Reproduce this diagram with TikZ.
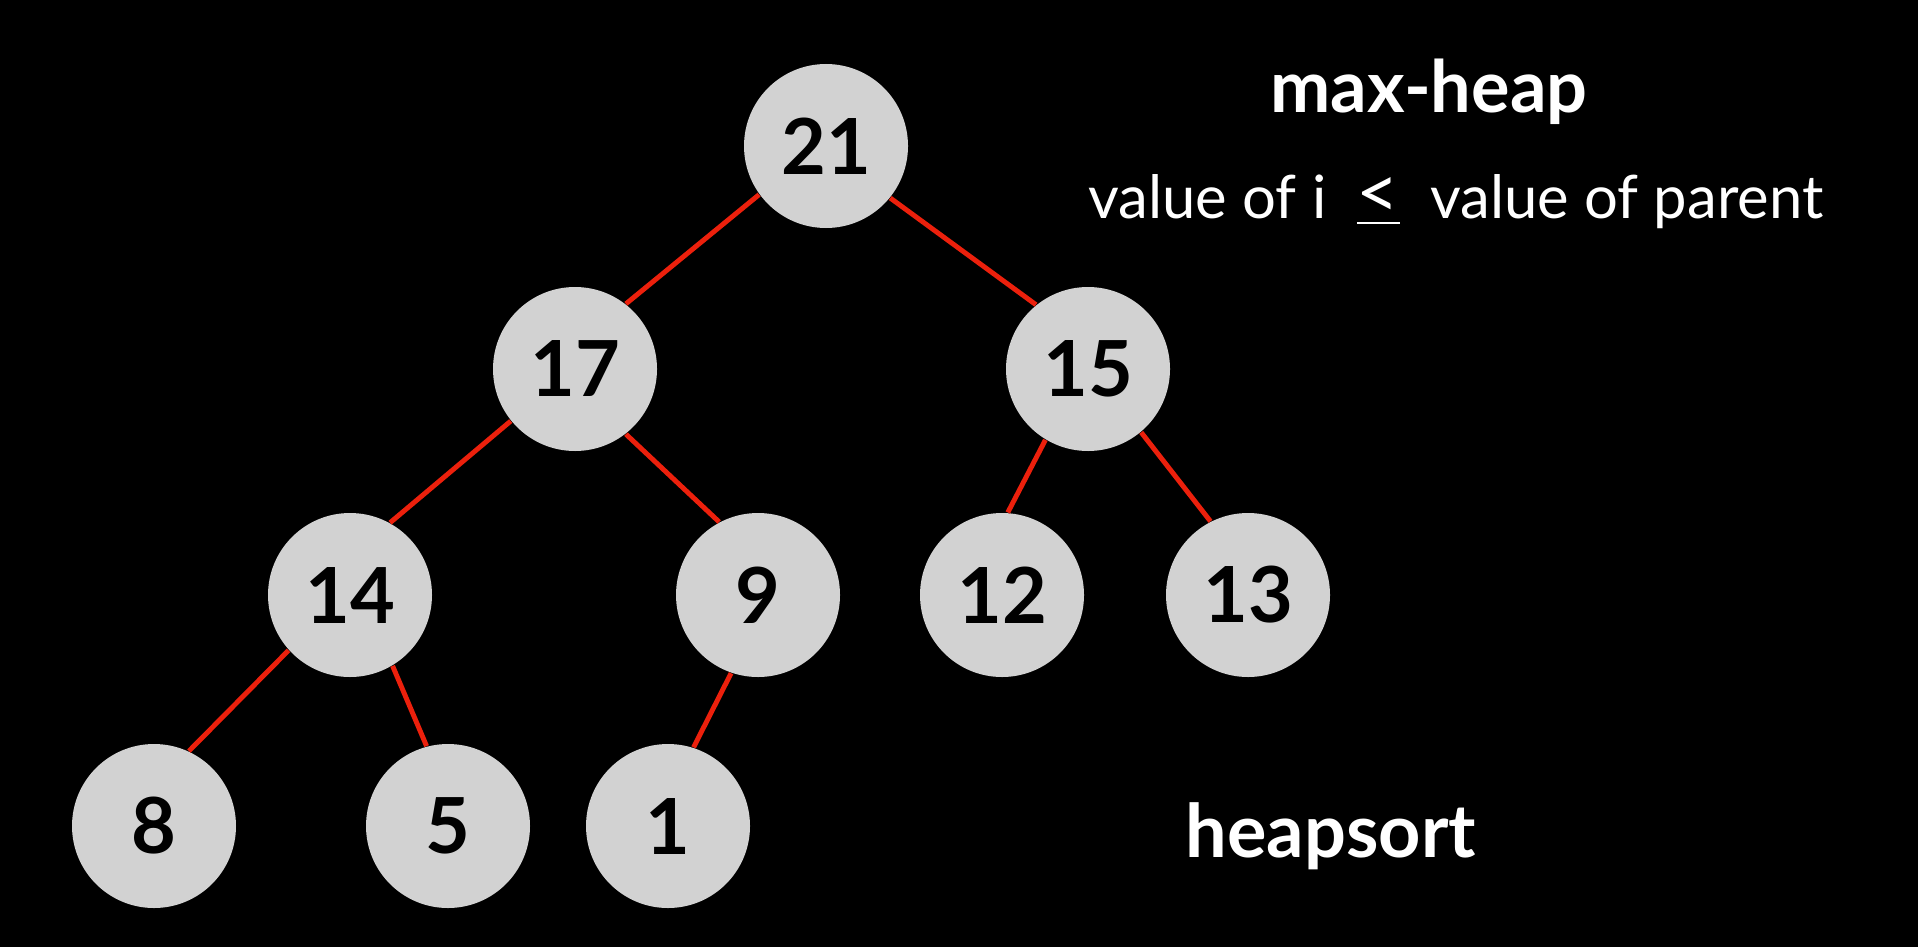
\documentclass[tikz,border=0pt]{standalone}
\usepackage{fontspec}
\setmainfont{Lato}
\usepackage{tikz}
\definecolor{nodegray}{RGB}{210,210,210}
\definecolor{edgered}{RGB}{236,32,12}

\begin{document}
\begin{tikzpicture}[
    heapnode/.style={circle, fill=nodegray, minimum size=1.64cm, inner sep=0pt,
        font=\fontsize{22}{24}\selectfont\bfseries, text=black},
    heapedge/.style={edgered, line width=1.4pt}
]
    % Background
    \useasboundingbox (0,0) rectangle (19.18,9.46);
    \fill[black] (-0.1,-0.1) rectangle (19.28,9.56);

    % Nodes
    \node[heapnode] (n21) at (8.26,8.00) {21};
    \node[heapnode] (n17) at (5.75,5.77) {17};
    \node[heapnode] (n15) at (10.88,5.77) {15};
    \node[heapnode] (n14) at (3.50,3.51) {14};
    \node[heapnode] (n9) at (7.58,3.51) {9};
    \node[heapnode] (n12) at (10.02,3.51) {12};
    \node[heapnode] (n13) at (12.48,3.51) {13};
    \node[heapnode] (n8) at (1.54,1.20) {8};
    \node[heapnode] (n5) at (4.48,1.20) {5};
    \node[heapnode] (n1) at (6.68,1.20) {1};

    % Edges
    \draw[heapedge] (n21.216) -- (n17.52);
    \draw[heapedge] (n21.321) -- (n15.129);
    \draw[heapedge] (n17.219) -- (n14.61);
    \draw[heapedge] (n17.308) -- (n9.118);
    \draw[heapedge] (n15.239) -- (n12.86);
    \draw[heapedge] (n15.310) -- (n13.117);
    \draw[heapedge] (n14.222) -- (n8.65);
    \draw[heapedge] (n14.301) -- (n5.105);
    \draw[heapedge] (n9.251) -- (n1.72);

    % Labels
    \node[anchor=base, text=white, font=\fontsize{20.5}{24}\selectfont\bfseries] (title) at (14.29,8.34) {max-heap};
    \node[anchor=base, text=white, font=\fontsize{17}{20}\selectfont] (rule) at (14.56,7.28) {value of i \ {\fontsize{21}{24}\selectfont\underline{<}} \ value of parent};
    \node[anchor=base, text=white, font=\fontsize{21}{24}\selectfont\bfseries] (sortname) at (13.31,0.89) {heapsort};
\end{tikzpicture}
\end{document}
